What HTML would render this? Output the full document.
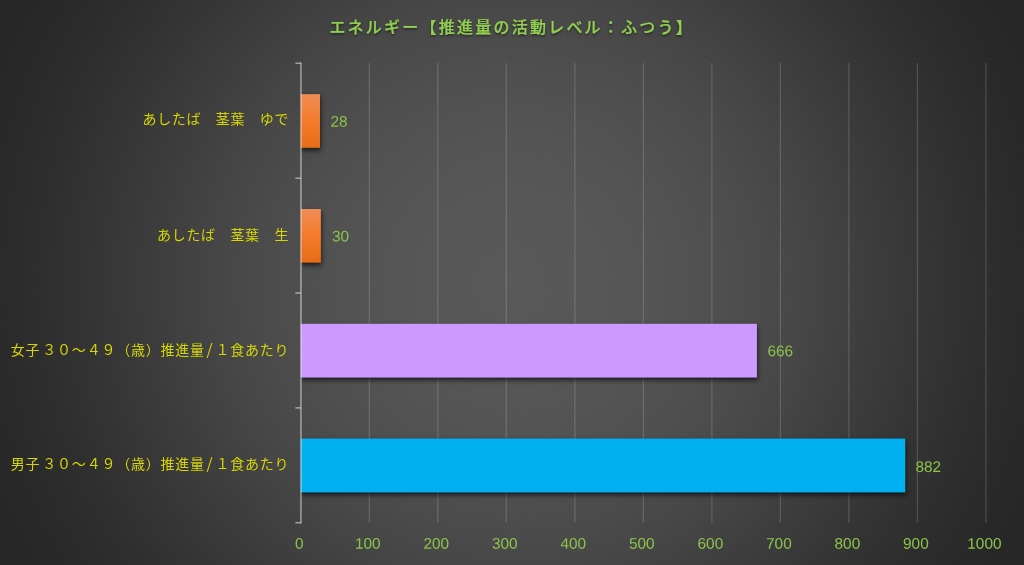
<!DOCTYPE html>
<html lang="ja">
<head>
<meta charset="utf-8">
<title>エネルギー【推進量の活動レベル：ふつう】</title>
<style>
  html, body { margin: 0; padding: 0; }
  body {
    width: 1024px; height: 565px; overflow: hidden;
    background: radial-gradient(circle 585px at 512px 282.5px, rgb(89.4 89.4 89.4) 0.0px, rgb(88.5 88.5 88.5) 33.0px, rgb(87.5 87.5 87.5) 66.0px, rgb(86.5 86.5 86.5) 100.0px, rgb(85.5 85.5 85.5) 117.0px, rgb(84.5 84.5 84.5) 134.5px, rgb(83.5 83.5 83.5) 153.0px, rgb(82.5 82.5 82.5) 165.5px, rgb(81.5 81.5 81.5) 178.0px, rgb(80.5 80.5 80.5) 191.0px, rgb(79.5 79.5 79.5) 204.0px, rgb(75.2 75.2 75.2) 250.0px, rgb(69.2 69.2 69.2) 300.0px, rgb(62.2 62.2 62.2) 350.0px, rgb(55.3 55.3 55.3) 400.0px, rgb(52.5 52.5 52.5) 421.0px, rgb(50.5 50.5 50.5) 438.0px, rgb(48.5 48.5 48.5) 454.0px, rgb(46.5 46.5 46.5) 470.0px, rgb(44.5 44.5 44.5) 489.0px, rgb(43.5 43.5 43.5) 500.0px, rgb(41.6 41.6 41.6) 520.0px, rgb(40.0 40.0 40.0) 540.0px, rgb(39.0 39.0 39.0) 560.0px, rgb(38.2 38.2 38.2) 585.0px);
    font-family: "Liberation Sans", "Noto Sans CJK JP", sans-serif;
  }
  svg { display: block; position: absolute; left: 0; top: 0; will-change: transform; }
  .title { font-family: "Liberation Sans", "Noto Sans CJK JP", sans-serif; font-weight: 500; font-size: 16px; letter-spacing: 2.23px; fill: #92D050; stroke: #92D050; stroke-width: 0.15px; }
  .cat { font-family: "Liberation Sans", "Noto Sans CJK JP", sans-serif; font-size: 14px; letter-spacing: 0.67px; fill: #D6D600; text-anchor: end; }
  .long { word-spacing: -2.6px; letter-spacing: 0.77px; }
  .sl { font-family: "Noto Sans CJK JP", sans-serif; font-size: 15.5px; }
  .num { font-family: "Liberation Sans", sans-serif; font-size: 15.4px; letter-spacing: 0px; fill: #8CC34B; }
  .ax { text-anchor: middle; }
</style>
</head>
<body>
<svg width="1024" height="565" viewBox="0 0 1024 565">
  <defs>
    <linearGradient id="og" x1="0" y1="0" x2="0" y2="1">
      <stop offset="0" stop-color="#F18D57"/>
      <stop offset="0.5" stop-color="#F47B2A"/>
      <stop offset="1" stop-color="#E66C17"/>
    </linearGradient>
    <filter id="sh" x="-5%" y="-20%" width="110%" height="150%">
      <feDropShadow dx="0.4" dy="2.6" stdDeviation="2.8" flood-color="#000" flood-opacity="0.72"/>
    </filter>
    <filter id="tsh" x="-5%" y="-30%" width="110%" height="180%">
      <feDropShadow dx="0" dy="1.5" stdDeviation="1.2" flood-color="#000" flood-opacity="0.5"/>
    </filter>
    <clipPath id="plot"><rect x="300.2" y="60" width="723.8" height="464"/></clipPath>
  </defs>

  <!-- gridlines -->
  <g stroke="rgba(242,242,242,0.16)" stroke-width="1.33" fill="none">
    <line x1="369.3" y1="63" x2="369.3" y2="522.5"/>
    <line x1="437.8" y1="63" x2="437.8" y2="522.5"/>
    <line x1="506.3" y1="63" x2="506.3" y2="522.5"/>
    <line x1="574.85" y1="63" x2="574.85" y2="522.5"/>
    <line x1="643.35" y1="63" x2="643.35" y2="522.5"/>
    <line x1="711.9" y1="63" x2="711.9" y2="522.5"/>
    <line x1="780.4" y1="63" x2="780.4" y2="522.5"/>
    <line x1="848.9" y1="63" x2="848.9" y2="522.5"/>
    <line x1="917.4" y1="63" x2="917.4" y2="522.5"/>
    <line x1="985.9" y1="63" x2="985.9" y2="522.5"/>
  </g>

  <!-- bars -->
  <g clip-path="url(#plot)"><g filter="url(#sh)">
    <rect x="300.8" y="94.2" width="19.2" height="53.5" fill="url(#og)"/>
    <rect x="300.8" y="209.0" width="20.0" height="53.5" fill="url(#og)"/>
    <rect x="300.8" y="323.85" width="456.1" height="53.5" fill="#CC99FF"/>
    <rect x="300.8" y="438.6" width="604.3" height="53.6" fill="#00B0F0"/>
  </g></g>

  <!-- category axis -->
  <g stroke="rgba(242,242,242,0.54)" stroke-width="1.5" fill="none">
    <line x1="300.95" y1="62.6" x2="300.95" y2="523.4"/>
    <line x1="295.4" y1="63.3" x2="300.9" y2="63.3"/>
    <line x1="295.4" y1="178.2" x2="300.9" y2="178.2"/>
    <line x1="295.4" y1="293.0" x2="300.9" y2="293.0"/>
    <line x1="295.4" y1="407.9" x2="300.9" y2="407.9"/>
    <line x1="295.4" y1="522.7" x2="300.9" y2="522.7"/>
  </g>

  <!-- title -->
  <text class="title" x="329.4" y="33" filter="url(#tsh)">エネルギー【推進量の活動レベル：ふつう】</text>

  <!-- category labels -->
  <text class="cat" x="289.2" y="123.6">あしたば　茎葉　ゆで</text>
  <text class="cat" x="289.1" y="239.8">あしたば　茎葉　生</text>
  <text class="cat long" x="289.3" y="354.7">女子 ３０～４９（歳）推進量<tspan class="sl" dx="1.7">/</tspan> １食あたり</text>
  <text class="cat long" x="289.3" y="469.2">男子 ３０～４９（歳）推進量<tspan class="sl" dx="1.7">/</tspan> １食あたり</text>

  <!-- data labels -->
  <text class="num" transform="translate(330.5,126.65) rotate(0.03)">28</text>
  <text class="num" transform="translate(332,241.45) rotate(0.03)">30</text>
  <text class="num" transform="translate(767.5,356.25) rotate(0.03)">666</text>
  <text class="num" transform="translate(915.5,471.9) rotate(0.03)">882</text>

  <!-- value axis labels -->
  <g class="num ax">
    <text transform="translate(299.3,548.8) rotate(0.03)">0</text>
    <text transform="translate(367.8,548.8) rotate(0.03)">100</text>
    <text transform="translate(436.3,548.8) rotate(0.03)">200</text>
    <text transform="translate(504.8,548.8) rotate(0.03)">300</text>
    <text transform="translate(573.3,548.8) rotate(0.03)">400</text>
    <text transform="translate(641.8,548.8) rotate(0.03)">500</text>
    <text transform="translate(710.4,548.8) rotate(0.03)">600</text>
    <text transform="translate(778.9,548.8) rotate(0.03)">700</text>
    <text transform="translate(847.4,548.8) rotate(0.03)">800</text>
    <text transform="translate(915.9,548.8) rotate(0.03)">900</text>
    <text transform="translate(984.4,548.8) rotate(0.03)">1000</text>
  </g>
</svg>
</body>
</html>
